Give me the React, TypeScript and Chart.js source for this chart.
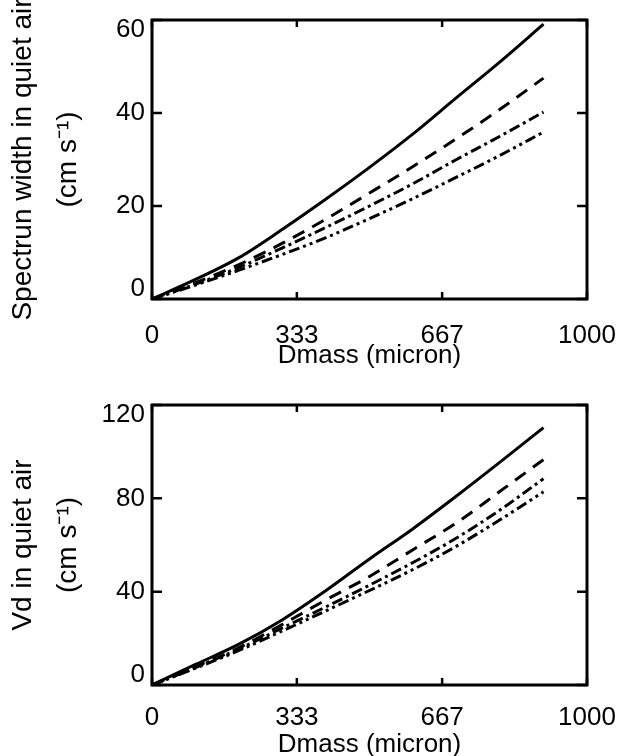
import React, { useEffect, useRef } from "react";
import { Chart, registerables } from "chart.js";

Chart.register(...registerables);

// ---- data ----
const dmass = [0, 100, 200, 300, 400, 500, 600, 700, 800, 900];
const xTickValues = [0, 333, 667, 1000];

const widthSolid = [0, 4.2, 8.9, 15.0, 21.5, 28.3, 35.5, 43.3, 51.0, 59.1];
const widthDashed = [0, 3.5, 7.4, 12.0, 17.2, 22.8, 28.5, 34.5, 40.8, 47.5];
const widthDashDot = [0, 3.2, 6.8, 11.0, 15.4, 20.0, 24.8, 30.0, 35.0, 40.2];
const widthDashDotDot = [0, 3.0, 6.2, 9.6, 13.2, 17.3, 21.6, 26.2, 30.9, 35.9];

const vdSolid = [0, 8.8, 17.5, 28.0, 40.5, 54.0, 67.0, 81.0, 95.5, 110.3];
const vdDashed = [0, 7.8, 16.0, 26.0, 36.5, 46.5, 58.0, 69.5, 83.0, 96.6];
const vdDashDot = [0, 7.5, 15.5, 24.5, 33.5, 42.8, 52.5, 63.0, 75.0, 88.4];
const vdDashDotDot = [0, 7.2, 14.8, 23.2, 31.8, 40.5, 49.5, 59.5, 70.8, 82.8];

const topYTitle = ["Spectrun width in quiet air", "(cm s\u207B\u00B9)"];
const bottomYTitle = ["Vd in quiet air", "(cm s\u207B\u00B9)"];
const xTitle = "Dmass (micron)";

const dashStyles = [[], [13, 9], [11, 4, 3, 4], [11, 4, 3, 4, 3, 4]];
const FONT = "'Liberation Sans', Arial, Helvetica, sans-serif";

const framePlugin = {
  id: "matlabFrame",
  afterDraw(chart: any) {
    const { ctx, chartArea } = chart;
    const xs = chart.scales.x;
    const ys = chart.scales.y;
    const { left, right, top, bottom } = chartArea;
    ctx.save();
    ctx.strokeStyle = "#000";
    ctx.lineWidth = 3;
    ctx.lineCap = "butt";
    ctx.strokeRect(left, top, right - left, bottom - top);
    ctx.lineWidth = 2.5;
    ctx.beginPath();
    xs.ticks.forEach((t: any) => {
      const px = xs.getPixelForValue(t.value);
      ctx.moveTo(px, bottom);
      ctx.lineTo(px, bottom - 7);
      ctx.moveTo(px, top);
      ctx.lineTo(px, top + 7);
    });
    ys.ticks.forEach((t: any) => {
      const py = ys.getPixelForValue(t.value);
      ctx.moveTo(left, py);
      ctx.lineTo(left + 10, py);
      ctx.moveTo(right, py);
      ctx.lineTo(right - 10, py);
    });
    ctx.stroke();
    ctx.restore();
  },
};

type PanelProps = {
  top: number;
  height: number;
  series: number[][];
  yMax: number;
  yStep: number;
  yTitle: string[];
  padTop: number;
  xScaleHeight: number;
  xTickPad: number;
  xTitlePad: number;
};

function Panel(p: PanelProps) {
  const ref = useRef<HTMLCanvasElement | null>(null);
  useEffect(() => {
    if (!ref.current) return;
    const chart = new Chart(ref.current, {
      type: "line",
      data: {
        labels: dmass,
        datasets: p.series.map((s, i) => ({
          data: s.map((v, j) => ({ x: dmass[j], y: v })),
          borderColor: "#000",
          borderWidth: 3,
          borderDash: dashStyles[i],
          borderCapStyle: "butt",
          pointRadius: 0,
          fill: false,
          cubicInterpolationMode: "monotone",
        })),
      } as any,
      options: {
        animation: false,
        responsive: false,
        devicePixelRatio: 1,
        layout: { padding: { top: p.padTop, right: 42, bottom: 0, left: 0 } },
        plugins: { legend: { display: false }, tooltip: { enabled: false } },
        scales: {
          x: {
            type: "linear",
            min: 0,
            max: 1000,
            afterBuildTicks: (s: any) => {
              s.ticks = xTickValues.map((v) => ({ value: v }));
            },
            afterFit: (s: any) => {
              s.height = p.xScaleHeight;
              s.paddingLeft = 0;
              s.paddingRight = 0;
            },
            grid: { display: false, drawTicks: false },
            border: { display: false },
            ticks: {
              color: "#000",
              padding: p.xTickPad,
              maxRotation: 0,
              font: { family: FONT, size: 26 },
              callback: (v: any) => String(v),
            },
            title: {
              display: true,
              text: xTitle,
              color: "#000",
              font: { family: FONT, size: 26, lineHeight: 1 },
              padding: { top: 0, bottom: p.xTitlePad },
            },
          },
          y: {
            type: "linear",
            min: 0,
            max: p.yMax,
            afterFit: (s: any) => {
              s.width = 152;
              s.paddingTop = 0;
              s.paddingBottom = 0;
            },
            grid: { display: false, drawTicks: false },
            border: { display: false },
            ticks: {
              stepSize: p.yStep,
              color: "#000",
              padding: 7,
              font: { family: FONT, size: 26, lineHeight: 0.75 },
              callback: (v: any) => {
                const s = String(v);
                if (v === p.yMax) return ["", s];
                if (v === 0) return [s, ""];
                return s;
              },
            },
            title: {
              display: true,
              text: p.yTitle,
              color: "#000",
              font: { family: FONT, size: 28, lineHeight: 1.6 },
              padding: { top: 1, bottom: 0 },
            },
          },
        },
      } as any,
      plugins: [framePlugin],
    });
    return () => chart.destroy();
  }, []);
  return (
    <canvas
      ref={ref}
      width={629}
      height={p.height}
      style={{ position: "absolute", left: 0, top: p.top, width: 629, height: p.height, display: "block" }}
    />
  );
}

export default function App() {
  return (
    <div style={{ position: "fixed", left: 0, top: 0, width: 629, height: 756, background: "#fff", overflow: "hidden" }}>
      <Panel
        top={0}
        height={378}
        series={[widthSolid, widthDashed, widthDashDot, widthDashDotDot]}
        yMax={60}
        yStep={20}
        yTitle={topYTitle}
        padTop={20}
        xScaleHeight={79}
        xTickPad={21}
        xTitlePad={9}
      />
      <Panel
        top={378}
        height={378}
        series={[vdSolid, vdDashed, vdDashDot, vdDashDotDot]}
        yMax={120}
        yStep={40}
        yTitle={bottomYTitle}
        padTop={27}
        xScaleHeight={71}
        xTickPad={17}
        xTitlePad={-2}
      />
    </div>
  );
}
